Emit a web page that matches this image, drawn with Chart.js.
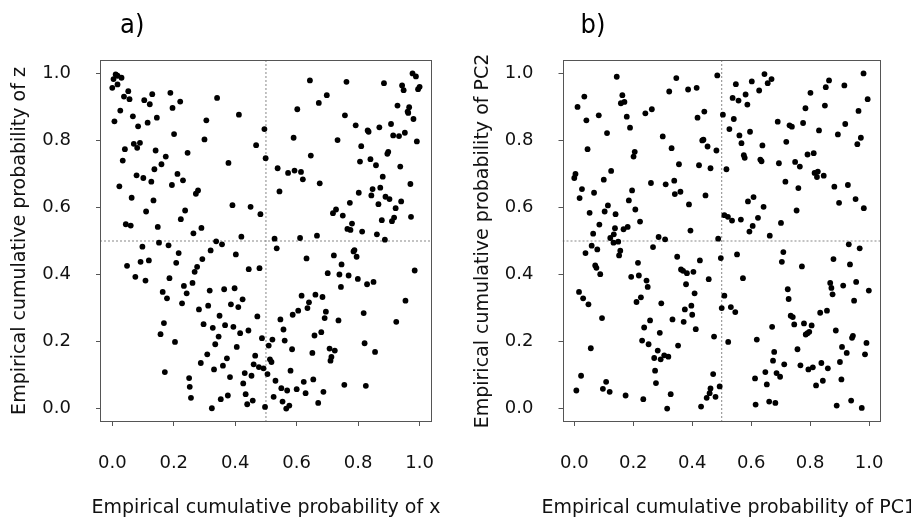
<!DOCTYPE html>
<html><head><meta charset="utf-8">
<script src="https://cdn.jsdelivr.net/npm/chart.js@4.4.1/dist/chart.umd.min.js"></script>
<style>
html,body{margin:0;padding:0;background:#fff;width:911px;height:521px;overflow:hidden}
#pa{position:absolute;left:0;top:0;width:462px;height:521px}
#pb{position:absolute;left:462px;top:0;width:449px;height:521px}
</style></head><body>
<div id="pa"><canvas id="ca"></canvas></div>
<div id="pb"><canvas id="cb"></canvas></div>
<script>
const tickValues=[0,0.2,0.4,0.6,0.8,1.0];
const axisMin=-0.04, axisMax=1.04;
const refLine=0.5;
const panelTitles=['a)','b)'];
const xTitles=['Empirical cumulative probability of x','Empirical cumulative probability of PC1'];
const yTitles=['Empirical cumulative probability of z','Empirical cumulative probability of PC2'];

// panel a: x vs z
const aX=[0.011,0.017,0.004,0.030,0.017,0.000,0.052,0.038,0.056,0.130,0.104,0.122,0.189,0.221,0.196,0.341,0.026,0.007,0.067,0.145,0.084,0.115,0.412,0.306,0.495,0.201,0.300,0.070,0.090,0.081,0.041,0.141,0.245,0.468,0.174,0.034,0.378,0.499,0.160,0.137,0.212,0.079,0.101,0.127,0.230,0.194,0.023,0.279,0.272,0.063,0.134,0.391,0.450,0.482,0.110,0.237,0.223,0.044,0.060,0.148,0.290,0.264,0.420,
0.977,0.988,0.643,0.762,0.884,0.943,0.948,1.000,0.995,0.698,0.672,0.602,0.928,0.966,0.961,0.963,0.757,0.980,0.792,0.831,0.834,0.869,0.907,0.914,0.933,0.952,0.590,0.733,0.991,0.810,0.898,0.895,0.646,0.806,0.840,0.858,0.937,0.538,0.572,0.593,0.614,0.620,0.675,0.880,0.970,0.544,0.802,0.847,0.872,0.843,0.889,0.902,0.940,0.773,0.866,0.922,0.728,0.718,0.750,0.877,0.917,0.910,0.972,0.780,0.765,0.775,0.813,0.861,0.528,0.611,0.666,0.887,
0.152,0.183,0.098,0.338,0.357,0.320,0.402,0.216,0.293,0.208,0.119,0.092,0.048,0.276,0.268,0.444,0.479,0.075,0.108,0.186,0.261,0.233,0.242,0.164,0.178,0.317,0.364,0.398,0.424,0.227,0.282,0.312,0.386,0.410,0.349,0.472,0.168,0.157,0.297,0.327,0.367,0.394,0.443,0.416,0.487,0.346,0.204,0.335,0.405,0.309,0.465,0.373,0.288,0.360,0.460,0.477,0.492,0.331,0.171,0.431,0.453,0.383,0.250,0.426,0.252,0.256,0.353,0.376,0.434,0.457,0.439,0.497,0.324,
0.535,0.632,0.721,0.785,0.788,0.795,0.746,0.701,0.739,0.769,0.799,0.829,0.850,0.744,0.984,0.616,0.661,0.684,0.640,0.635,0.605,0.587,0.695,0.691,0.547,0.736,0.818,0.954,0.924,0.557,0.521,0.561,0.680,0.658,0.509,0.585,0.651,0.707,0.724,0.821,0.855,0.713,0.710,0.513,0.518,0.505,0.580,0.531,0.623,0.654,0.755,0.825,0.550,0.569,0.600,0.629,0.687,0.525,0.554,0.576,0.566,0.670];
const aY=[0.997,0.993,0.983,0.987,0.967,0.957,0.947,0.931,0.923,0.938,0.920,0.908,0.942,0.916,0.897,0.927,0.889,0.857,0.872,0.868,0.842,0.853,0.877,0.860,0.834,0.819,0.803,0.790,0.793,0.778,0.774,0.770,0.763,0.786,0.752,0.740,0.733,0.747,0.729,0.714,0.700,0.696,0.688,0.677,0.681,0.667,0.663,0.651,0.641,0.629,0.621,0.607,0.602,0.580,0.588,0.591,0.565,0.550,0.546,0.542,0.539,0.523,0.513,
1.000,0.991,0.979,0.975,0.971,0.964,0.950,0.960,0.953,0.935,0.912,0.893,0.904,0.899,0.886,0.882,0.875,0.864,0.845,0.830,0.826,0.839,0.849,0.815,0.813,0.823,0.808,0.801,0.797,0.783,0.766,0.760,0.755,0.737,0.744,0.726,0.722,0.717,0.703,0.710,0.706,0.684,0.672,0.692,0.670,0.648,0.644,0.655,0.659,0.636,0.632,0.625,0.618,0.614,0.610,0.598,0.594,0.583,0.576,0.562,0.570,0.559,0.572,0.552,0.536,0.533,0.528,0.520,0.507,0.509,0.516,0.504,
0.495,0.487,0.483,0.499,0.490,0.472,0.460,0.464,0.446,0.435,0.442,0.438,0.426,0.423,0.408,0.416,0.419,0.393,0.382,0.389,0.375,0.366,0.344,0.348,0.329,0.352,0.356,0.359,0.326,0.314,0.296,0.307,0.311,0.303,0.277,0.275,0.255,0.222,0.252,0.241,0.249,0.244,0.233,0.225,0.210,0.215,0.199,0.192,0.184,0.162,0.158,0.150,0.136,0.128,0.132,0.124,0.120,0.117,0.109,0.106,0.098,0.094,0.091,0.075,0.065,0.032,0.028,0.039,0.043,0.024,0.013,0.005,0.001,
0.478,0.448,0.457,0.469,0.473,0.453,0.430,0.404,0.400,0.397,0.387,0.371,0.378,0.363,0.412,0.337,0.340,0.333,0.317,0.300,0.292,0.280,0.289,0.270,0.266,0.263,0.285,0.322,0.259,0.236,0.206,0.203,0.228,0.218,0.188,0.177,0.166,0.179,0.173,0.195,0.169,0.154,0.143,0.147,0.139,0.103,0.113,0.083,0.080,0.087,0.071,0.068,0.061,0.054,0.058,0.046,0.050,0.035,0.021,0.009,0.000,0.017];

// panel b: PC1 vs PC2
const bX=[0.144,0.346,0.386,0.415,0.322,0.034,0.163,0.158,0.170,0.011,0.263,0.241,0.441,0.083,0.178,0.418,0.041,0.189,0.111,0.300,0.434,0.438,0.452,0.045,0.330,0.205,0.201,0.355,0.423,0.462,0.125,0.004,0.000,0.100,0.260,0.310,0.339,0.026,0.196,0.067,0.341,0.360,0.445,0.018,0.185,0.114,0.389,0.052,0.103,0.140,0.207,0.223,0.085,0.138,0.181,0.167,0.064,0.134,0.122,0.286,0.308,0.394,
0.485,0.645,0.548,0.602,0.656,0.669,0.627,0.581,0.537,0.557,0.587,0.981,0.864,0.853,0.916,0.801,0.850,0.995,0.784,0.964,0.504,0.541,0.690,0.730,0.738,0.776,0.919,0.526,0.560,0.596,0.830,0.894,0.972,0.960,0.567,0.638,0.719,0.482,0.575,0.578,0.631,0.635,0.694,0.749,0.765,0.791,0.812,0.516,0.815,0.826,0.823,0.846,0.716,0.760,0.882,0.928,0.589,0.608,0.642,0.898,0.954,0.982,0.754,0.509,0.521,0.535,0.565,0.623,0.701,0.605,0.594,0.663,0.488,
0.133,0.149,0.059,0.078,0.038,0.156,0.152,0.267,0.071,0.075,0.088,0.216,0.193,0.219,0.245,0.249,0.349,0.362,0.369,0.382,0.404,0.426,0.379,0.456,0.016,0.030,0.048,0.226,0.211,0.295,0.408,0.375,0.397,0.400,0.333,0.371,0.257,0.237,0.412,0.094,0.290,0.230,0.252,0.352,0.056,0.283,0.271,0.293,0.305,0.319,0.274,0.277,0.023,0.108,0.007,0.097,0.120,0.174,0.234,0.327,0.315,0.430,0.449,0.459,0.462,
0.931,0.968,0.709,0.552,0.497,0.704,0.879,0.935,0.772,0.572,0.868,0.872,0.912,0.956,0.876,0.999,0.949,0.724,0.727,0.509,0.500,0.531,0.546,0.834,0.857,0.734,0.741,0.746,0.779,0.805,0.671,0.785,0.791,0.797,0.887,0.474,0.522,0.619,0.945,0.942,0.991,0.908,0.924,0.986,0.757,0.678,0.674,0.712,0.767,0.809,0.794,0.838,0.860,0.901,0.648,0.686,0.698,0.613,0.653,0.820,0.843,0.906,0.471,0.493,0.479,0.615,0.661,0.682,0.890,0.939,0.975];
const bY=[0.990,0.986,0.952,0.957,0.946,0.931,0.935,0.911,0.915,0.900,0.893,0.881,0.886,0.875,0.871,0.868,0.860,0.838,0.822,0.812,0.800,0.802,0.782,0.774,0.777,0.766,0.752,0.729,0.726,0.717,0.709,0.700,0.688,0.683,0.673,0.669,0.680,0.655,0.651,0.644,0.640,0.647,0.636,0.628,0.621,0.606,0.609,0.584,0.588,0.580,0.594,0.558,0.549,0.538,0.542,0.535,0.522,0.520,0.509,0.512,0.505,0.531,
0.994,0.998,0.968,0.976,0.971,0.983,0.949,0.937,0.927,0.919,0.907,1.000,0.979,0.959,0.964,0.942,0.904,0.923,0.896,0.888,0.877,0.864,0.856,0.845,0.841,0.852,0.849,0.834,0.815,0.826,0.830,0.818,0.808,0.789,0.792,0.785,0.796,0.770,0.756,0.748,0.743,0.738,0.732,0.736,0.722,0.758,0.762,0.714,0.703,0.707,0.691,0.695,0.677,0.658,0.662,0.667,0.618,0.631,0.602,0.614,0.625,0.598,0.591,0.577,0.572,0.561,0.564,0.569,0.554,0.545,0.528,0.516,0.507,
0.495,0.498,0.486,0.475,0.464,0.471,0.457,0.482,0.427,0.420,0.401,0.435,0.393,0.397,0.382,0.363,0.453,0.415,0.411,0.404,0.408,0.442,0.371,0.386,0.348,0.329,0.311,0.332,0.318,0.314,0.344,0.296,0.307,0.280,0.266,0.259,0.263,0.242,0.237,0.270,0.226,0.203,0.192,0.188,0.180,0.173,0.151,0.147,0.159,0.155,0.113,0.076,0.098,0.080,0.054,0.059,0.050,0.039,0.028,0.043,0.000,0.006,0.032,0.046,0.060,
0.490,0.478,0.467,0.460,0.449,0.438,0.446,0.430,0.424,0.389,0.375,0.360,0.367,0.378,0.341,0.352,0.322,0.356,0.327,0.337,0.300,0.303,0.288,0.286,0.292,0.277,0.273,0.251,0.254,0.248,0.244,0.221,0.225,0.229,0.233,0.215,0.199,0.206,0.217,0.211,0.196,0.184,0.166,0.162,0.177,0.169,0.143,0.132,0.129,0.123,0.117,0.136,0.120,0.139,0.109,0.106,0.095,0.090,0.072,0.069,0.083,0.087,0.103,0.066,0.035,0.012,0.021,0.017,0.009,0.024,0.002];

const fontFamily='"DejaVu Sans", Verdana, sans-serif';
const tickFont={family:fontFamily,size:18};
const titleFont={family:fontFamily,size:19};

const boxPlugin={id:'box',afterDatasetsDraw(chart){const {ctx,chartArea:a}=chart;ctx.save();ctx.strokeStyle='#555';ctx.lineWidth=1;ctx.strokeRect(Math.round(a.left)+0.5,Math.round(a.top)+0.5,Math.round(a.right-a.left)-1,Math.round(a.bottom-a.top)-1);ctx.restore();}};
const labelPlugin={id:'panelLabel',afterDraw(chart,args,opts){const {ctx,chartArea:a}=chart;ctx.save();
  ctx.font='27px "Liberation Sans Narrow", "DejaVu Sans Condensed", sans-serif';ctx.fillStyle='#000';ctx.textBaseline='alphabetic';ctx.textAlign='left';ctx.fillText(opts.text,a.left+opts.dx,33);
  // x-axis title, drawn without width compression (as in the original, it may run off the page)
  ctx.font='19px '+fontFamily;ctx.fillStyle='#111';ctx.textAlign='center';ctx.textBaseline='middle';ctx.fillText(opts.xTitle,(a.left+a.right)/2+opts.tdx,a.bottom+86);
  ctx.restore();}};

function zip(xs,ys){const n=Math.min(xs.length,ys.length);const out=[];for(let i=0;i<n;i++)out.push({x:xs[i],y:ys[i]});return out;}

function makeChart(id,xs,ys,k,pad,dx,tdx){
  const refStyle={type:'scatter',showLine:true,borderColor:'#888',borderWidth:1,borderDash:[2,2],pointRadius:0,fill:false,order:2};
  return new Chart(document.getElementById(id),{
    type:'scatter',
    data:{datasets:[
      Object.assign({data:[{x:refLine,y:axisMin},{x:refLine,y:axisMax}]},refStyle),
      Object.assign({data:[{x:axisMin,y:refLine},{x:axisMax,y:refLine}]},refStyle),
      {data:zip(xs,ys),pointRadius:2.9,pointHoverRadius:2.9,backgroundColor:'#000',borderWidth:0,order:1}
    ]},
    options:{
      responsive:true,maintainAspectRatio:false,animation:false,devicePixelRatio:1,
      layout:{padding:pad},
      plugins:{legend:{display:false},tooltip:{enabled:false},panelLabel:{text:panelTitles[k],xTitle:xTitles[k],dx:dx,tdx:tdx}},
      scales:{
        x:{type:'linear',min:axisMin,max:axisMax,
          afterBuildTicks(s){s.ticks=tickValues.map(v=>({value:v}));},
          afterFit(s){s.height=99;},
          ticks:{font:tickFont,color:'#111',padding:27,maxRotation:0,autoSkip:false,callback:v=>Number(v).toFixed(1)},
          grid:{display:true,drawOnChartArea:false,drawTicks:true,tickLength:4,color:'#555'},
          border:{display:false},
          title:{display:false}},
        y:{type:'linear',min:axisMin,max:axisMax,
          afterBuildTicks(s){s.ticks=tickValues.map(v=>({value:v}));},
          afterFit(s){s.width=100;},
          ticks:{font:tickFont,color:'#111',padding:25,autoSkip:false,callback:v=>Number(v).toFixed(1)},
          grid:{display:true,drawOnChartArea:false,drawTicks:true,tickLength:4,color:'#555'},
          border:{display:false},
          title:{display:true,text:yTitles[k],font:titleFont,color:'#111',padding:{top:9,bottom:0}}}
      }
    },
    plugins:[boxPlugin,labelPlugin]
  });
}
makeChart('ca',aX,aY,0,{left:0,right:29,top:60,bottom:0},20,0);
makeChart('cb',bX,bY,1,{left:0.5,right:15,top:60,bottom:0},18,7);
</script>
</body></html>
